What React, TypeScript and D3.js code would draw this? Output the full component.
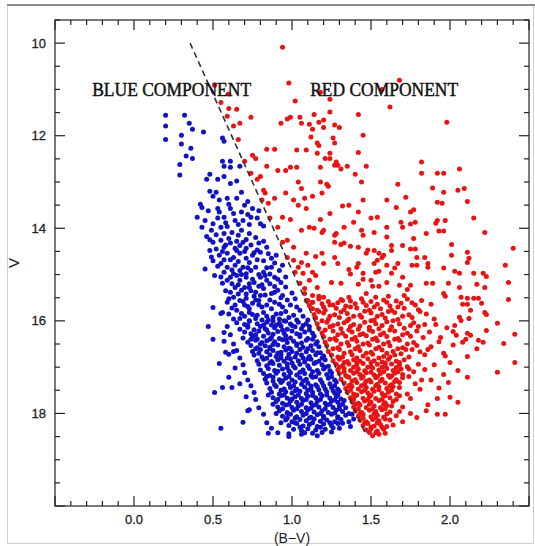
import React, { useEffect, useRef } from "react";
import * as d3 from "d3";

// (B-V, V) pairs, flattened as bv,v,bv,v,...
const blueUpper = [
  0.20,11.56, 0.20,11.79, 0.20,12.08, 0.32,11.56, 0.35,11.73, 0.37,11.86, 0.44,11.92, 0.30,11.99, 0.30,12.18, 0.36,12.27,
  0.33,12.44, 0.37,12.49, 0.29,12.62, 0.29,12.85, 0.56,12.05, 0.57,12.12, 0.56,12.55, 0.61,12.55, 0.57,12.66, 0.61,12.68,
  0.67,12.66, 0.48,12.83, 0.46,12.94, 0.53,12.94, 0.57,12.88, 0.61,13.03, 0.65,12.98, 0.48,13.20, 0.52,13.22, 0.50,13.31,
  0.68,13.22, 0.59,13.35, 0.65,13.35, 0.54,13.39, 0.42,13.48, 0.72,13.42, 0.43,13.55, 0.40,13.76, 0.45,13.83, 0.53,13.57,
  0.54,13.65, 0.53,13.78, 0.57,13.76, 0.61,13.57, 0.63,13.68, 0.64,13.83, 0.68,13.65, 0.72,13.70, 0.69,13.83, 0.75,13.57,
  0.74,13.76, 0.78,13.78, 0.47,13.62, 0.50,13.90, 0.58,13.88, 0.66,13.92, 0.73,13.92, 0.80,13.90, 0.60,13.48, 0.70,13.50,
  0.79,13.62, 0.82,13.95,
];

const blueMid = [
  0.43,13.98, 0.49,14.04, 0.55,13.98, 0.59,13.96, 0.57,14.11, 0.62,14.09, 0.66,14.15, 0.68,14.04, 0.73,14.11, 0.50,14.30,
  0.55,14.26, 0.57,14.41, 0.61,14.32, 0.64,14.43, 0.67,14.37, 0.71,14.43, 0.79,14.32, 0.84,14.41, 0.48,14.48, 0.54,14.58,
  0.59,14.54, 0.63,14.63, 0.67,14.54, 0.71,14.65, 0.75,14.58, 0.80,14.52, 0.87,14.65, 0.90,14.58, 0.55,14.76, 0.59,14.84,
  0.64,14.80, 0.67,14.91, 0.69,14.84, 0.74,14.91, 0.77,14.84, 0.82,14.95, 0.87,14.84, 0.92,14.91, 0.61,15.06, 0.65,15.02,
  0.67,15.12, 0.71,15.06, 0.76,15.17, 0.80,15.06, 0.84,15.12, 0.89,15.06, 0.93,15.17, 0.56,15.19, 0.64,15.28, 0.68,15.34,
  0.73,15.28, 0.77,15.38, 0.82,15.30, 0.87,15.41, 0.91,15.34, 0.94,15.45, 0.63,15.49, 0.67,15.56, 0.71,15.51, 0.75,15.62,
  0.79,15.56, 0.84,15.66, 0.89,15.60, 0.99,15.66, 0.55,15.84, 0.65,15.77, 0.68,15.84, 0.73,15.82, 0.78,15.88, 0.82,15.82,
  0.88,15.92, 0.93,15.84, 1.01,15.88, 1.05,15.77,
  0.46,14.18, 0.52,14.14, 0.60,14.22, 0.71,14.24, 0.77,14.20, 0.65,14.28, 0.52,14.45, 0.70,14.50, 0.78,14.47, 0.61,14.68,
  0.66,14.72, 0.82,14.70, 0.57,14.95, 0.63,14.98, 0.71,14.98, 0.79,15.00, 0.86,14.99, 0.59,15.12, 0.66,15.22, 0.73,15.20,
  0.81,15.22, 0.89,15.26, 0.61,15.38, 0.71,15.42, 0.76,15.47, 0.83,15.44, 0.59,15.60, 0.70,15.66, 0.81,15.70, 0.87,15.74,
  0.94,15.70, 0.97,15.55, 0.62,15.72, 0.73,15.74, 0.77,15.95, 0.85,15.98, 0.92,15.96, 0.98,15.93, 0.67,15.95, 0.49,14.62,
  0.45,14.88, 0.51,15.02,
  0.48,14.25, 0.58,14.36, 0.69,14.30, 0.74,14.36, 0.82,14.28, 0.56,14.50, 0.65,14.48, 0.76,14.53, 0.85,14.55, 0.50,14.70,
  0.57,14.68, 0.73,14.74, 0.78,14.68, 0.89,14.75, 0.53,14.82, 0.62,14.90, 0.72,14.85, 0.84,14.85, 0.94,14.80, 0.55,15.05,
  0.68,15.00, 0.75,15.10, 0.83,15.02, 0.91,15.10, 0.96,15.05, 0.62,15.20, 0.70,15.28, 0.79,15.25, 0.86,15.20, 0.96,15.27,
  0.58,15.35, 0.66,15.42, 0.74,15.35, 0.80,15.45, 0.89,15.38, 1.00,15.40, 0.60,15.52, 0.69,15.58, 0.77,15.55, 0.86,15.55,
  0.93,15.50, 1.02,15.52, 0.64,15.66, 0.72,15.69, 0.79,15.65, 0.92,15.64, 1.03,15.70, 0.60,15.85, 0.70,15.90, 0.75,15.86,
  0.84,15.90, 0.90,15.85, 0.96,15.80, 1.07,15.90, 0.63,15.96, 0.73,16.00, 0.81,15.98, 0.88,16.00, 0.95,16.00, 1.03,15.98,
  1.10,15.98,
];

const blueCore = [
  0.65,16.04, 0.70,16.08, 0.73,16.01, 0.78,16.06, 0.84,16.03, 0.87,16.09, 0.92,16.05, 0.96,16.01, 0.99,16.07, 1.04,16.03, 1.09,16.06,
  0.67,16.18, 0.72,16.14, 0.76,16.19, 0.80,16.12, 0.83,16.17, 0.89,16.15, 0.93,16.11, 0.97,16.18, 1.02,16.13, 1.06,16.17, 1.11,16.12,
  0.70,16.24, 0.74,16.28, 0.79,16.22, 0.85,16.26, 0.88,16.29, 0.91,16.23, 0.95,16.27, 1.00,16.22, 1.03,16.28, 1.08,16.24, 1.13,16.27,
  0.69,16.37, 0.75,16.34, 0.78,16.39, 0.82,16.33, 0.87,16.36, 0.92,16.38, 0.96,16.32, 0.99,16.37, 1.05,16.34, 1.10,16.38, 1.14,16.33,
  0.72,16.46, 0.77,16.42, 0.81,16.47, 0.84,16.43, 0.89,16.45, 0.94,16.41, 0.97,16.47, 1.01,16.44, 1.06,16.48, 1.09,16.42, 1.16,16.45,
  0.74,16.53, 0.78,16.58, 0.83,16.54, 0.86,16.57, 0.91,16.52, 0.95,16.56, 0.98,16.59, 1.03,16.53, 1.07,16.57, 1.12,16.54, 1.17,16.56,
  0.75,16.66, 0.80,16.62, 0.84,16.67, 0.88,16.64, 0.93,16.68, 0.96,16.63, 1.00,16.66, 1.05,16.62, 1.09,16.67, 1.13,16.64, 1.18,16.69,
  0.76,16.74, 0.81,16.78, 0.86,16.73, 0.90,16.77, 0.93,16.74, 0.98,16.72, 1.02,16.78, 1.06,16.74, 1.11,16.77, 1.15,16.73, 1.20,16.76,
  0.78,16.86, 0.82,16.83, 0.87,16.88, 0.91,16.84, 0.95,16.87, 0.99,16.82, 1.04,16.86, 1.08,16.89, 1.12,16.83, 1.17,16.87, 1.21,16.84,
  0.79,16.94, 0.84,16.97, 0.88,16.92, 0.92,16.96, 0.97,16.93, 1.01,16.98, 1.05,16.94, 1.10,16.97, 1.14,16.92, 1.19,16.95, 1.23,16.98,
  0.80,17.06, 0.85,17.03, 0.89,17.07, 0.94,17.04, 0.98,17.08, 1.02,17.02, 1.07,17.06, 1.11,17.03, 1.16,17.07, 1.20,17.04, 1.24,17.08,
  0.82,17.14, 0.86,17.18, 0.90,17.13, 0.95,17.16, 0.99,17.12, 1.03,17.17, 1.08,17.14, 1.12,17.18, 1.17,17.13, 1.22,17.16, 1.25,17.12,
  0.83,17.26, 0.88,17.22, 0.92,17.27, 0.96,17.24, 1.00,17.28, 1.05,17.23, 1.09,17.26, 1.13,17.22, 1.18,17.27, 1.23,17.24, 1.27,17.28,
  0.84,17.34, 0.89,17.38, 0.93,17.33, 0.98,17.36, 1.02,17.32, 1.06,17.37, 1.10,17.34, 1.15,17.38, 1.19,17.33, 1.24,17.36, 1.28,17.32,
  0.86,17.46, 0.90,17.42, 0.95,17.47, 0.99,17.44, 1.03,17.48, 1.08,17.43, 1.12,17.46, 1.16,17.42, 1.21,17.47, 1.25,17.44, 1.29,17.48,
  0.87,17.54, 0.92,17.58, 0.96,17.53, 1.00,17.56, 1.05,17.52, 1.09,17.57, 1.13,17.54, 1.18,17.58, 1.22,17.53, 1.27,17.56, 1.30,17.52,
  0.88,17.66, 0.93,17.62, 0.97,17.67, 1.02,17.64, 1.06,17.68, 1.10,17.63, 1.15,17.66, 1.19,17.62, 1.24,17.67, 1.28,17.64, 1.31,17.69,
  0.90,17.74, 0.94,17.78, 0.99,17.73, 1.03,17.76, 1.07,17.72, 1.12,17.77, 1.16,17.74, 1.21,17.78, 1.25,17.73, 1.29,17.76, 1.33,17.72,
  0.91,17.86, 0.96,17.82, 1.00,17.87, 1.04,17.84, 1.09,17.88, 1.13,17.83, 1.17,17.86, 1.22,17.82, 1.26,17.87, 1.30,17.84, 1.34,17.88,
  0.92,17.94, 0.97,17.98, 1.01,17.93, 1.06,17.96, 1.10,17.92, 1.14,17.97, 1.19,17.94, 1.23,17.98, 1.28,17.93, 1.32,17.96,
  0.94,18.06, 0.99,18.02, 1.03,18.07, 1.07,18.04, 1.12,18.08, 1.16,18.03, 1.20,18.06, 1.25,18.02, 1.29,18.07, 1.34,18.04,
  0.96,18.14, 1.00,18.18, 1.05,18.13, 1.09,18.16, 1.14,18.12, 1.18,18.17, 1.22,18.14, 1.27,18.18, 1.31,18.13,
  0.98,18.26, 1.03,18.22, 1.07,18.27, 1.11,18.24, 1.16,18.28, 1.20,18.23, 1.25,18.26, 1.29,18.22,
  1.01,18.34, 1.06,18.37, 1.10,18.33, 1.15,18.36, 1.21,18.34,
];

const blueFill = [
  0.72,16.10, 0.82,16.09, 0.90,16.09, 1.00,16.10, 1.07,16.10, 0.77,16.30, 0.84,16.20, 0.94,16.20, 1.05,16.30, 1.11,16.20,
  0.74,16.40, 0.86,16.40, 0.96,16.40, 1.03,16.50, 1.13,16.40, 0.80,16.50, 0.88,16.51, 0.99,16.60, 1.10,16.60, 1.15,16.50,
  0.77,16.60, 0.86,16.60, 0.91,16.70, 1.03,16.70, 1.16,16.69, 0.79,16.70, 0.84,16.81, 0.97,16.80, 1.10,16.82, 1.19,16.80,
  0.93,16.80, 1.00,16.91, 1.07,16.80, 1.15,16.90, 0.86,16.91, 0.97,17.01, 1.05,17.11, 1.13,17.10, 1.21,17.00, 0.91,17.09,
  0.84,17.20, 0.98,17.20, 1.07,17.30, 1.15,17.21, 1.25,17.20, 0.94,17.30, 1.01,17.40, 1.12,17.41, 1.20,17.40, 1.27,17.40,
  0.88,17.30, 0.93,17.50, 1.02,17.51, 1.10,17.50, 1.17,17.49, 1.26,17.51, 0.85,17.60, 0.95,17.60, 1.04,17.60, 1.13,17.61,
  1.22,17.60, 1.29,17.60, 0.91,17.70, 1.00,17.69, 1.09,17.70, 1.18,17.70, 1.27,17.71, 0.88,17.80, 0.98,17.80, 1.06,17.80,
  1.15,17.81, 1.24,17.80, 1.32,17.80, 0.94,17.90, 1.03,17.90, 1.12,17.89, 1.21,17.90, 1.30,17.90, 0.90,18.00, 0.97,18.00,
  1.09,18.00, 1.18,18.00, 1.27,17.99, 1.36,18.00, 0.97,18.10, 1.02,18.10, 1.11,18.10, 1.20,18.10, 1.29,18.10, 1.02,18.20,
  1.13,18.20, 1.24,18.20, 1.32,18.21, 0.93,18.20, 1.05,18.30, 1.18,18.30, 1.26,18.31, 1.08,18.42, 1.19,18.41,
];

const blueEdge = [
  0.59,16.12, 0.61,16.30, 0.63,16.50, 0.65,16.64, 0.67,16.80, 0.69,16.95, 0.70,17.12, 0.72,17.28, 0.74,17.40, 0.76,17.55,
  0.77,17.70, 0.79,17.88, 0.82,18.02, 0.84,18.20, 0.87,18.32, 0.91,18.42, 0.57,16.44, 0.60,16.72, 0.64,17.02, 0.67,17.36,
  0.71,17.64, 0.73,17.92, 0.98,18.44, 1.06,18.45, 1.13,18.43, 1.25,18.40, 1.30,18.32, 1.36,18.18, 1.38,18.02, 1.37,18.28,
  1.39,18.12, 0.50,15.71, 0.47,16.12, 0.56,15.82, 0.57,16.25, 0.51,17.55, 0.55,18.32, 0.56,17.44, 0.62,17.44, 0.60,17.22,
  0.69,18.19, 0.63,16.66, 0.58,16.68, 0.85,18.43, 0.98,18.50, 1.16,18.48, 0.72,17.94, 0.54,16.92, 0.50,16.40,
];

const redTop = [
  0.94,10.09, 0.98,10.86, 0.51,10.91, 0.60,11.10, 0.55,11.28, 0.60,11.41, 0.65,11.43, 0.59,11.58, 0.63,11.79, 0.67,11.73,
  0.74,11.60, 0.66,12.08, 1.02,11.25, 0.93,11.73, 0.97,11.64, 0.99,11.60, 1.05,11.60, 1.06,11.73, 1.11,11.75, 1.17,11.71,
  1.20,11.66, 1.18,11.06, 1.24,11.21, 1.24,11.49, 1.14,11.54, 1.42,11.54, 1.62,11.38, 1.98,11.71, 1.20,11.82, 1.13,11.86,
  1.12,12.03, 1.26,12.05, 1.27,12.16, 1.45,11.99, 1.42,12.36, 1.09,12.31, 1.17,12.21, 1.21,12.49, 1.24,12.49, 1.24,12.38,
  1.27,12.64, 1.29,12.64, 1.31,12.72, 1.35,12.66, 1.47,12.66, 1.18,12.68, 1.40,12.83, 1.57,11.00, 1.16,12.16, 1.68,10.80,
  0.70,12.55, 0.75,12.42, 0.77,12.49, 0.84,12.66, 0.74,12.81, 0.78,12.94, 0.84,12.29, 0.89,12.29, 1.03,12.31, 0.80,12.88,
  0.91,12.75, 0.96,12.75, 0.99,12.68, 1.03,12.68, 1.27,11.77, 1.30,11.82, 1.16,12.38, 1.28,12.57,
];

const redUpper = [
  1.04,13.00, 1.13,13.31, 1.08,13.35, 1.04,13.50, 1.01,13.39, 0.96,13.24, 0.89,13.35, 0.83,13.24, 0.81,13.39, 0.85,13.46,
  0.86,13.78, 0.94,13.76, 0.99,13.81, 0.91,13.98, 1.09,13.57, 1.06,14.04, 0.97,14.26, 0.94,14.30, 1.01,14.41, 0.97,14.63,
  1.01,14.69, 1.06,14.74, 1.10,14.80, 1.04,14.84, 1.02,14.95, 1.07,14.97, 1.13,14.95, 1.15,15.02, 1.11,15.12, 1.05,15.19,
  1.08,15.30, 1.16,15.28, 1.20,15.49, 1.09,15.56, 1.13,15.60, 1.16,15.77, 1.24,15.66, 1.32,15.56, 0.82,13.18,
  1.18,13.00, 1.22,13.05, 1.23,13.09, 1.44,13.00, 1.67,13.05, 1.06,13.14, 1.19,13.24, 1.45,13.39, 1.60,13.39, 1.32,13.52,
  1.36,13.50, 1.24,13.68, 1.66,13.55, 1.42,13.65, 1.39,13.87, 1.50,13.78, 1.54,13.76, 1.69,13.87, 1.18,13.81, 1.11,13.98,
  1.14,14.00, 1.19,14.09, 1.20,14.04, 1.28,14.11, 1.27,14.15, 1.33,13.98, 1.44,14.04, 1.45,14.15, 1.52,14.09, 1.60,13.98,
  1.60,14.19, 1.27,14.30, 1.31,14.35, 1.33,14.32, 1.42,14.41, 1.47,14.54, 1.48,14.47, 1.52,14.48, 1.55,14.54, 1.63,14.37,
  1.58,14.58, 1.54,14.69, 1.63,14.48, 1.37,14.39, 1.19,14.54, 1.09,14.54, 1.15,14.61, 1.20,14.76, 1.29,14.76, 1.27,14.63,
  1.42,14.76, 1.41,14.84, 1.36,14.89, 1.37,14.99, 1.45,14.97, 1.45,15.10, 1.52,14.76, 1.53,14.95, 1.55,14.93, 1.57,14.63,
  1.60,14.80, 1.65,14.86, 1.67,14.76, 1.63,14.97, 1.70,15.06, 1.25,15.17, 1.31,15.19, 1.42,15.21, 1.50,15.12, 1.51,15.25,
  1.55,15.25, 1.60,15.17, 1.68,15.23, 1.08,15.41, 1.13,15.45, 1.17,15.47, 1.36,15.49, 1.47,15.41, 1.53,15.49, 1.61,15.47,
  1.71,15.45,
];

const redRight = [
  1.82,12.57, 1.82,12.81, 1.92,12.81, 1.96,12.81, 2.06,12.72, 1.89,13.13, 1.96,13.22, 2.05,13.18, 2.09,13.14, 1.72,13.33,
  1.92,13.44, 1.95,13.46, 2.11,13.42, 2.15,13.78, 1.75,13.65, 1.77,13.60, 1.78,13.87, 1.75,13.91, 1.91,13.89, 1.92,13.83,
  1.97,13.83, 1.93,14.06, 1.96,14.06, 1.85,14.11, 2.22,14.09, 1.70,13.98, 1.77,14.22, 2.01,14.35, 1.70,14.37, 1.75,14.45,
  1.78,14.45, 2.40,14.43, 2.01,14.58, 2.11,14.52, 2.12,14.65, 2.11,14.74, 1.79,14.63, 1.84,14.63, 1.86,14.76, 1.86,14.84,
  1.76,14.80, 1.79,14.80, 1.96,14.86, 2.35,14.80, 2.03,14.93, 2.06,14.97, 2.15,14.97, 2.21,14.97, 2.23,15.04, 2.37,15.17,
  1.99,15.19, 2.17,15.21, 2.22,15.28, 1.85,15.19, 1.75,15.23, 1.73,15.32, 2.06,15.28, 2.07,15.49, 2.11,15.51, 2.15,15.51,
  2.18,15.51, 2.20,15.62, 2.37,15.54, 2.22,15.82, 2.30,16.05, 2.23,16.21, 2.41,16.29, 2.34,16.49, 1.96,15.41, 1.97,15.47,
  1.89,15.19, 2.08,15.64, 2.11,15.64, 2.13,15.77, 2.06,15.92, 2.07,15.99, 2.12,15.95, 2.23,15.86, 2.03,16.10, 2.02,16.23,
  2.04,16.31, 2.11,16.27, 2.13,16.31, 2.08,16.46, 2.21,16.46, 2.41,16.90, 2.30,17.11, 2.18,16.42, 2.17,16.60, 2.10,16.40,
  2.11,16.77, 2.11,17.22, 2.05,17.07, 2.05,17.76, 2.00,17.65, 1.97,18.02, 1.92,18.02, 1.99,17.33, 1.92,17.68, 1.86,17.81,
  1.85,17.94, 1.79,18.09, 1.75,17.68, 1.81,17.48,
];

const redMid = [
  1.10,15.56, 1.17,15.53, 1.23,15.58, 1.31,15.54, 1.37,15.57, 1.44,15.52, 1.50,15.58, 1.58,15.55, 1.66,15.57, 1.73,15.53, 1.82,15.56,
  1.11,15.67, 1.19,15.63, 1.26,15.66, 1.34,15.68, 1.40,15.63, 1.47,15.67, 1.54,15.64, 1.62,15.68, 1.69,15.62, 1.78,15.66, 1.88,15.64,
  1.13,15.74, 1.21,15.77, 1.28,15.73, 1.33,15.76, 1.41,15.72, 1.49,15.77, 1.56,15.74, 1.63,15.77, 1.71,15.73, 1.80,15.76,
  1.14,15.86, 1.20,15.83, 1.27,15.87, 1.35,15.84, 1.43,15.88, 1.50,15.83, 1.57,15.86, 1.65,15.82, 1.74,15.87, 1.85,15.85,
  1.15,15.94, 1.23,15.97, 1.30,15.93, 1.36,15.96, 1.44,15.92, 1.52,15.98, 1.59,15.94, 1.67,15.97, 1.76,15.93, 1.90,15.96,
  1.16,16.06, 1.22,16.03, 1.29,16.07, 1.33,16.04, 1.39,16.08, 1.46,16.03, 1.53,16.06, 1.60,16.02, 1.68,16.07, 1.77,16.04, 1.84,16.08,
  1.17,16.16, 1.24,16.13, 1.31,16.17, 1.37,16.12, 1.42,16.18, 1.49,16.14, 1.55,16.17, 1.63,16.13, 1.71,16.16, 1.80,16.12,
  1.19,16.26, 1.26,16.22, 1.32,16.27, 1.38,16.24, 1.45,16.28, 1.51,16.23, 1.58,16.26, 1.65,16.22, 1.73,16.27, 1.87,16.24,
  1.20,16.34, 1.27,16.38, 1.34,16.33, 1.40,16.36, 1.47,16.32, 1.53,16.37, 1.60,16.34, 1.67,16.38, 1.75,16.33, 1.83,16.36,
  1.21,16.46, 1.28,16.42, 1.35,16.47, 1.41,16.44, 1.48,16.48, 1.54,16.43, 1.61,16.46, 1.68,16.42, 1.77,16.47, 1.93,16.45,
  1.22,16.54, 1.29,16.58, 1.36,16.53, 1.42,16.56, 1.49,16.52, 1.55,16.57, 1.62,16.54, 1.70,16.58, 1.79,16.53, 1.88,16.56,
  1.23,16.66, 1.30,16.62, 1.37,16.67, 1.43,16.64, 1.50,16.68, 1.57,16.63, 1.64,16.66, 1.72,16.62, 1.81,16.67,
  1.25,16.74, 1.32,16.78, 1.38,16.73, 1.45,16.76, 1.51,16.72, 1.58,16.77, 1.65,16.74, 1.74,16.78, 1.84,16.73, 1.97,16.76,
];

const redCore = [
  1.26,16.86, 1.30,16.83, 1.35,16.88, 1.39,16.84, 1.43,16.87, 1.48,16.82, 1.52,16.86, 1.57,16.89, 1.61,16.83, 1.66,16.87, 1.71,16.84,
  1.28,16.94, 1.32,16.97, 1.36,16.93, 1.41,16.96, 1.45,16.92, 1.50,16.98, 1.54,16.94, 1.59,16.97, 1.63,16.93, 1.68,16.96, 1.73,16.99,
  1.29,17.06, 1.33,17.03, 1.37,17.07, 1.42,17.04, 1.46,17.08, 1.51,17.02, 1.55,17.06, 1.60,17.03, 1.64,17.07, 1.69,17.04,
  1.30,17.14, 1.34,17.18, 1.39,17.13, 1.43,17.16, 1.47,17.12, 1.52,17.17, 1.56,17.14, 1.61,17.18, 1.65,17.13, 1.70,17.16,
  1.31,17.26, 1.36,17.22, 1.40,17.27, 1.44,17.24, 1.49,17.28, 1.53,17.23, 1.57,17.26, 1.62,17.22, 1.66,17.27,
  1.33,17.34, 1.37,17.38, 1.41,17.33, 1.46,17.36, 1.50,17.32, 1.54,17.37, 1.59,17.34, 1.63,17.38, 1.68,17.33,
  1.34,17.46, 1.38,17.42, 1.42,17.47, 1.47,17.44, 1.51,17.48, 1.55,17.43, 1.60,17.46, 1.64,17.42,
  1.35,17.54, 1.39,17.58, 1.44,17.53, 1.48,17.56, 1.52,17.52, 1.57,17.57, 1.61,17.54, 1.66,17.58,
  1.37,17.66, 1.40,17.62, 1.45,17.67, 1.49,17.64, 1.53,17.68, 1.58,17.63, 1.62,17.66,
  1.38,17.74, 1.42,17.78, 1.46,17.73, 1.50,17.76, 1.55,17.72, 1.59,17.77, 1.64,17.74,
  1.39,17.86, 1.43,17.82, 1.47,17.87, 1.52,17.84, 1.56,17.88, 1.60,17.83,
  1.40,17.94, 1.44,17.98, 1.49,17.93, 1.53,17.96, 1.57,17.92, 1.62,17.97,
  1.42,18.06, 1.45,18.02, 1.50,18.07, 1.54,18.04, 1.58,18.08,
  1.43,18.14, 1.47,18.18, 1.51,18.13, 1.55,18.16,
  1.45,18.26, 1.48,18.22, 1.52,18.27, 1.56,18.24,
  1.47,18.36, 1.50,18.33, 1.54,18.38,
  1.51,18.48, 1.55,18.45, 1.59,18.43,
];

const redFill = [
  1.13,15.60, 1.20,15.70, 1.29,15.61, 1.37,15.70, 1.45,15.60, 1.52,15.70, 1.60,15.60, 1.67,15.70, 1.76,15.61, 1.17,15.80,
  1.24,15.90, 1.31,15.81, 1.39,15.90, 1.46,15.79, 1.54,15.90, 1.61,15.80, 1.70,15.90, 1.81,15.80, 1.19,16.00, 1.26,16.10,
  1.35,16.00, 1.43,16.11, 1.50,16.00, 1.57,16.10, 1.64,16.00, 1.75,16.10, 1.21,16.20, 1.29,16.30, 1.36,16.20, 1.43,16.30,
  1.49,16.20, 1.56,16.30, 1.62,16.20, 1.70,16.30, 1.79,16.22, 1.24,16.40, 1.31,16.50, 1.38,16.40, 1.45,16.50, 1.51,16.40,
  1.58,16.50, 1.65,16.40, 1.73,16.50, 1.26,16.60, 1.33,16.70, 1.40,16.60, 1.47,16.70, 1.53,16.60, 1.60,16.70, 1.67,16.60,
  1.69,16.71, 1.76,16.62, 1.29,16.78, 1.41,16.80, 1.55,16.80, 1.62,16.78,
  1.33,16.90, 1.41,16.90, 1.50,16.90, 1.59,16.91, 1.68,16.90, 1.30,17.00, 1.39,17.00, 1.48,17.00, 1.57,17.00, 1.66,17.01,
  1.74,17.04, 1.33,17.10, 1.41,17.10, 1.50,17.11, 1.58,17.10, 1.67,17.10, 1.35,17.20, 1.45,17.20, 1.54,17.20, 1.63,17.19,
  1.70,17.23, 1.38,17.30, 1.47,17.30, 1.56,17.30, 1.65,17.31, 1.36,17.40, 1.44,17.40, 1.53,17.40, 1.62,17.40, 1.68,17.44,
  1.37,17.50, 1.46,17.50, 1.55,17.49, 1.63,17.50, 1.41,17.60, 1.50,17.60, 1.59,17.61, 1.68,17.62, 1.39,17.70, 1.48,17.70,
  1.57,17.70, 1.66,17.70, 1.40,17.80, 1.49,17.80, 1.58,17.80, 1.63,17.84, 1.42,17.90, 1.51,17.90, 1.59,17.90, 1.43,18.00,
  1.52,18.00, 1.60,18.01, 1.45,18.10, 1.53,18.10, 1.59,18.12, 1.46,18.20, 1.54,18.20, 1.50,18.30, 1.57,18.30, 1.49,18.41,
  1.53,18.42,
];

const redEdge = [
  1.74,17.20, 1.78,17.36, 1.73,17.58, 1.77,17.10, 1.82,17.28, 1.70,17.86, 1.66,18.05, 1.68,17.96, 1.62,18.14, 1.60,18.28,
  1.70,18.18, 1.75,18.00, 1.84,17.05, 1.88,17.28, 1.90,16.95, 1.96,17.16, 1.93,17.45, 1.80,16.94, 1.86,16.62, 1.96,16.70,
  2.00,16.90, 2.02,16.52, 1.94,16.36, 1.98,16.15, 1.91,16.08, 1.58,18.34, 1.64,18.25,
];

// dashed separation line, end points in data units
const boundaryBV = [0.355, 1.465];
const boundaryV = [10, 18.44];

const xTickLabels = [0, 0.5, 1, 1.5, 2];
const yTickLabels = [10, 12, 14, 16, 18];
const componentLabels = [
  { text: "BLUE COMPONENT", bv: -0.265, v: 11.15, len: 159 },
  { text: "RED COMPONENT", bv: 1.115, v: 11.15, len: 148 },
];

const toPairs = (flat: number[]) => {
  const out: [number, number][] = [];
  for (let i = 0; i < flat.length; i += 2) out.push([flat[i], flat[i + 1]]);
  return out;
};

const blueStars = toPairs([...blueUpper, ...blueMid, ...blueCore, ...blueFill, ...blueEdge]);
const redStars = toPairs([...redTop, ...redUpper, ...redRight, ...redMid, ...redCore, ...redFill, ...redEdge]);

const W = 535, H = 546;

const drawChart = (el: SVGSVGElement | null) => {
  if (!el) return;
  const svg = d3.select(el);
  svg.selectAll("*").remove();

  const x = d3.scaleLinear().domain([-0.5, 2.5]).range([55, 529]);
  const y = d3.scaleLinear().domain([9.5, 20]).range([20, 506]);
  const [x0, x1] = x.range();
  const [y0, y1] = y.range();

  // screenshot border
  svg.append("rect").attr("x", 7.5).attr("y", 5.5).attr("width", 526).attr("height", 538)
    .attr("fill", "#fff").attr("stroke", "#cfcfcf");
  svg.append("line").attr("x1", 7).attr("x2", 535).attr("y1", 5).attr("y2", 5)
    .attr("stroke", "#8c8c8c").attr("stroke-width", 2);

  // stars
  svg.append("g").selectAll("circle").data(blueStars).join("circle")
    .attr("cx", d => x(d[0])).attr("cy", d => y(d[1])).attr("r", 2.5)
    .attr("fill", "#1212c4");
  svg.append("g").selectAll("circle").data(redStars).join("circle")
    .attr("cx", d => x(d[0])).attr("cy", d => y(d[1])).attr("r", 2.5)
    .attr("fill", "#e81414");

  // dashed boundary
  svg.append("line")
    .attr("x1", x(boundaryBV[0])).attr("y1", y(boundaryV[0]))
    .attr("x2", x(boundaryBV[1])).attr("y2", y(boundaryV[1]))
    .attr("stroke", "#333").attr("stroke-width", 1.6).attr("stroke-dasharray", "6,4");

  // frame + ticks on all four sides
  const axes = svg.append("g").attr("stroke", "#222").attr("stroke-width", 1.2);
  axes.append("rect").attr("x", x0).attr("y", y0).attr("width", x1 - x0).attr("height", y1 - y0).attr("fill", "none");

  d3.range(-0.5, 2.5001, 0.1).forEach(v => {
    const major = Math.abs(v * 2 - Math.round(v * 2)) < 1e-6;
    const len = major ? 10 : 5;
    axes.append("line").attr("x1", x(v)).attr("x2", x(v)).attr("y1", y1).attr("y2", y1 - len);
    axes.append("line").attr("x1", x(v)).attr("x2", x(v)).attr("y1", y0).attr("y2", y0 + len);
  });
  d3.range(9.5, 20.001, 0.5).forEach(v => {
    const major = Math.abs(v / 2 - Math.round(v / 2)) < 1e-6;
    const len = major ? 10 : 5;
    axes.append("line").attr("y1", y(v)).attr("y2", y(v)).attr("x1", x0).attr("x2", x0 + len);
    axes.append("line").attr("y1", y(v)).attr("y2", y(v)).attr("x1", x1).attr("x2", x1 - len);
  });

  const tickFont = "'Liberation Sans', Arial, sans-serif";
  svg.append("g").selectAll("text").data(xTickLabels).join("text")
    .attr("x", d => x(d)).attr("y", y1 + 18)
    .attr("text-anchor", "middle").attr("font-family", tickFont).attr("font-size", 13)
    .attr("fill", "#222").attr("stroke", "#222").attr("stroke-width", 0.3)
    .text(d => d3.format(".1f")(d));
  svg.append("g").selectAll("text").data(yTickLabels).join("text")
    .attr("x", x0 - 9).attr("y", d => y(d)).attr("dy", "0.35em")
    .attr("text-anchor", "end").attr("font-family", tickFont).attr("font-size", 13)
    .attr("fill", "#222").attr("stroke", "#222").attr("stroke-width", 0.3)
    .text(d => d);

  svg.append("text").attr("x", x(1)).attr("y", y1 + 37)
    .attr("text-anchor", "middle").attr("font-family", tickFont).attr("font-size", 14)
    .attr("fill", "#222").text("(B\u2212V)");
  svg.append("text").attr("transform", `translate(19,${(y0 + y1) / 2}) rotate(-90)`)
    .attr("text-anchor", "middle").attr("font-family", tickFont).attr("font-size", 15)
    .attr("fill", "#222").text("V");

  svg.append("g").selectAll("text").data(componentLabels).join("text")
    .attr("x", d => x(d.bv)).attr("y", d => y(d.v))
    .attr("font-family", "'Liberation Serif', 'DejaVu Serif', serif").attr("font-size", 19)
    .attr("textLength", d => d.len).attr("lengthAdjust", "spacingAndGlyphs")
    .attr("fill", "#111").attr("stroke", "#111").attr("stroke-width", 0.45)
    .text(d => d.text);
};

const App = () => {
  const ref = useRef<SVGSVGElement>(null);
  useEffect(() => {
    drawChart(ref.current);
  }, []);
  return (
    <svg ref={ref} width={W} height={H}
      style={{ position: "absolute", left: 0, top: 0, background: "#fff" }} />
  );
};

export default App;
